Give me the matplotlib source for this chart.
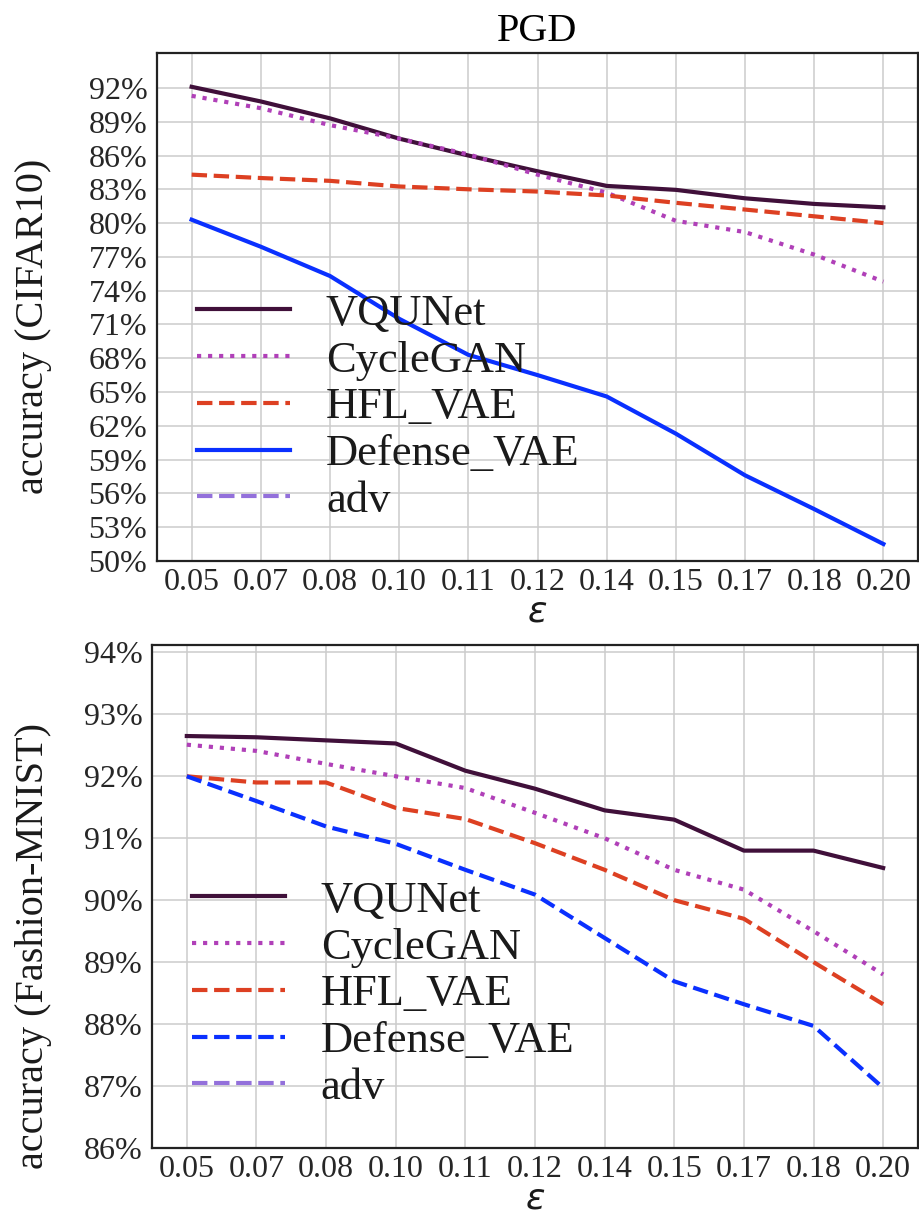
import numpy as np
import matplotlib
matplotlib.use('Agg')
import matplotlib.pyplot as plt
from matplotlib.ticker import FuncFormatter

plt.rcParams['font.family'] = ['Liberation Serif', 'DejaVu Serif']

eps = ['0.05', '0.07', '0.08', '0.10', '0.11', '0.12', '0.14', '0.15', '0.17', '0.18', '0.20']
methods = ['VQUNet', 'CycleGAN', 'HFL_VAE', 'Defense_VAE', 'adv']

# CIFAR10 accuracy (%) under PGD
cifar_vqunet = [92.1, 90.8, 89.3, 87.5, 86.0, 84.6, 83.3, 82.95, 82.2, 81.7, 81.4]
cifar_cyclegan = [91.3, 90.2, 88.7, 87.5, 86.1, 84.3, 82.7, 80.2, 79.2, 77.2, 74.8]
cifar_hfl = [84.3, 84.0, 83.75, 83.25, 83.0, 82.8, 82.45, 81.8, 81.2, 80.6, 80.0]
cifar_defense = [80.3, 77.9, 75.3, 71.5, 68.3, 66.5, 64.6, 61.3, 57.6, 54.6, 51.5]
cifar_yticks = [50, 53, 56, 59, 62, 65, 68, 71, 74, 77, 80, 83, 86, 89, 92]

# Fashion-MNIST accuracy (%) under PGD
fm_vqunet = [92.65, 92.63, 92.58, 92.53, 92.09, 91.8, 91.45, 91.3, 90.8, 90.8, 90.52]
fm_cyclegan = [92.51, 92.41, 92.2, 92.0, 91.81, 91.41, 91.0, 90.49, 90.17, 89.5, 88.8]
fm_hfl = [92.0, 91.9, 91.9, 91.49, 91.31, 90.92, 90.49, 90.0, 89.7, 89.0, 88.32]
fm_defense = [92.0, 91.6, 91.19, 90.91, 90.49, 90.09, 89.39, 88.69, 88.32, 87.97, 86.97]
fm_yticks = [86, 87, 88, 89, 90, 91, 92, 93, 94]

colors = ['#40103a', '#b040b8', '#dd4022', '#0a30ff', '#9370db']

fig = plt.figure(figsize=(9.2, 12.22), dpi=100)
ax1 = fig.add_axes([0.1707, 0.541, 0.8271, 0.4156])
ax2 = fig.add_axes([0.1652, 0.0606, 0.8326, 0.4116])

pct = FuncFormatter(lambda v, p: '%d%%' % round(v))


def draw(ax, series, styles, yticks, ylim, ylabel, label_xy):
    for vals, name, c, ls in zip(series, methods[:4], colors[:4], styles):
        ax.plot(eps, vals, color=c, linestyle=ls, lw=3, label=name)
    ax.plot([], [], color=colors[4], linestyle='--', lw=3, label=methods[4])
    ax.set_xlim(-0.5, len(eps) - 0.5)
    ax.set_ylim(*ylim)
    ax.set_yticks(yticks)
    ax.yaxis.set_major_formatter(pct)
    ax.grid(True, color='#cccccc', lw=1.1)
    ax.set_axisbelow(True)
    for s in ax.spines.values():
        s.set_color('#222222')
        s.set_linewidth(1.6)
    ax.tick_params(length=0, labelsize=23, labelcolor='#262626', pad=7)
    ax.tick_params(axis='x', pad=5)
    ax.set_ylabel(ylabel, fontsize=29, color='#1a1a1a')
    ax.yaxis.set_label_coords(*label_xy)
    ax.set_xlabel('ε', fontsize=26, family='DejaVu Sans', style='italic', color='#1a1a1a', labelpad=-2)
    ax.legend(loc='lower left', fontsize=32, frameon=False, labelspacing=0.15,
              handlelength=2.1, labelcolor='#1a1a1a')


draw(ax1, [cifar_vqunet, cifar_cyclegan, cifar_hfl, cifar_defense],
     ['-', ':', '--', '-'], cifar_yticks, (50, 95.1), 'accuracy (CIFAR10)', (-0.138, 0.461))
draw(ax2, [fm_vqunet, fm_cyclegan, fm_hfl, fm_defense],
     ['-', ':', '--', '--'], fm_yticks, (86, 94.12), 'accuracy (Fashion-MNIST)', (-0.131, 0.402))

ax1.set_title('PGD', fontsize=29, pad=9)

fig.savefig('out.png', dpi=100)
